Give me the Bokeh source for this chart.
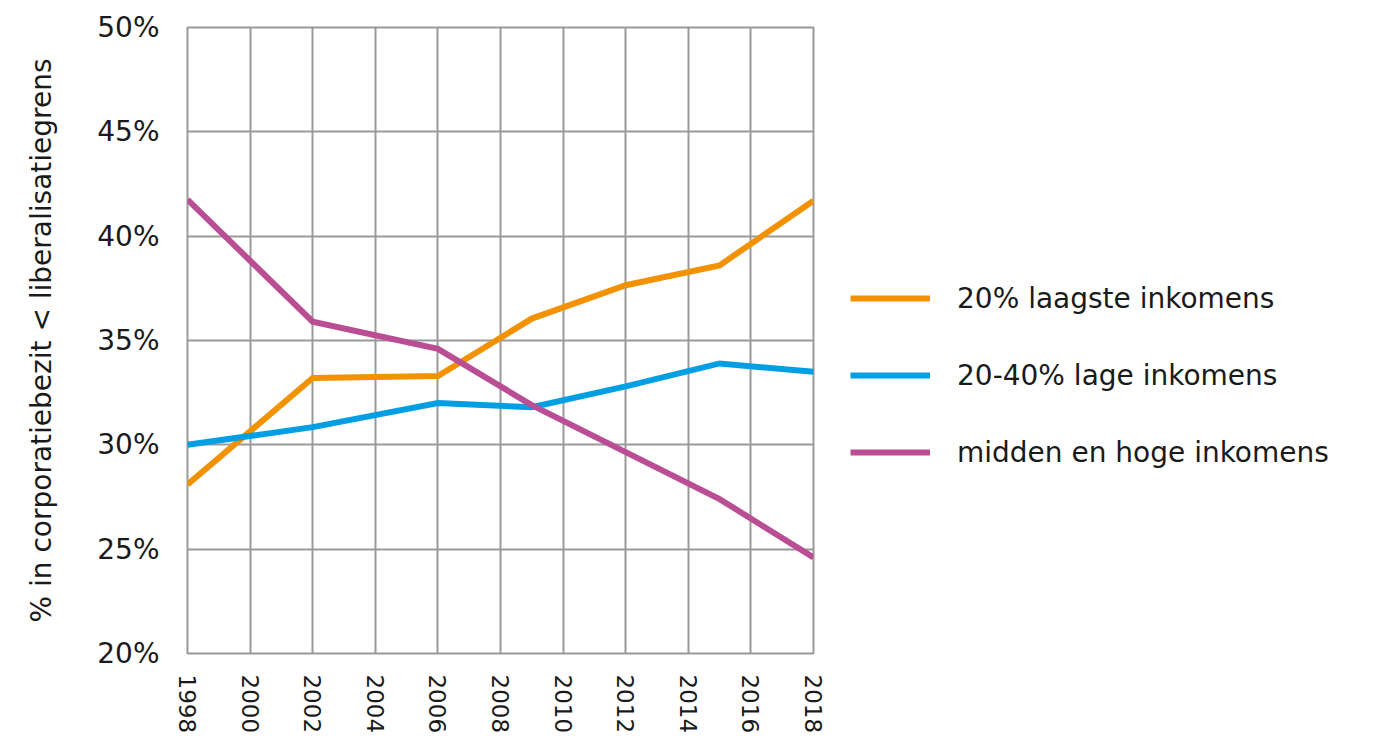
from bokeh.plotting import figure
from bokeh.layouts import row
from bokeh.models import Legend, LegendItem, FixedTicker, NumeralTickFormatter, Range1d
from bokeh.embed import file_html
from bokeh.resources import INLINE

years = [1998, 2002, 2006, 2009, 2012, 2015, 2018]
laagste = [28.1, 33.2, 33.3, 36.05, 37.65, 38.6, 41.7]
lage = [30.0, 30.85, 32.0, 31.8, 32.8, 33.9, 33.5]
midden_hoog = [41.75, 35.9, 34.6, 31.9, 29.65, 27.4, 24.6]

series_names = ["20% laagste inkomens", "20-40% lage inkomens", "midden en hoge inkomens"]
series_colors = ["#F39200", "#009FE3", "#B94E94"]
x_ticks = list(range(1998, 2019, 2))
y_ticks = [20, 25, 30, 35, 40, 45, 50]

FONT = "DejaVu Sans"
TXT = "#1a1a1a"
GRID = "#999999"
H = 736

p = figure(width=830, height=H, output_backend="svg", toolbar_location=None,
           x_range=Range1d(1998, 2018), y_range=Range1d(20, 50),
           min_border_left=187, min_border_top=27, min_border_bottom=79, min_border_right=17)
p.outline_line_color = GRID
p.outline_line_width = 2
p.background_fill_color = "white"
p.border_fill_color = "white"

for ys, c in zip([laagste, lage, midden_hoog], series_colors):
    p.line(years, ys, line_color=c, line_width=6, line_join="miter")

p.xaxis.ticker = FixedTicker(ticks=x_ticks)
p.yaxis.ticker = FixedTicker(ticks=y_ticks)
p.yaxis.formatter = NumeralTickFormatter(format="0")
p.yaxis.major_label_overrides = {t: f"{t}%" for t in y_ticks}

for ax in (p.xaxis[0], p.yaxis[0]):
    ax.axis_line_color = None
    ax.major_tick_line_color = None
    ax.minor_tick_line_color = None
    ax.major_tick_out = 0
    ax.major_tick_in = 0
    ax.major_label_text_font = FONT
    ax.major_label_text_color = TXT

p.xaxis.major_label_orientation = "vertical"
p.xaxis.major_label_text_font_size = "23px"
p.xaxis.major_label_standoff = 21
p.yaxis.major_label_text_font_size = "28px"
p.yaxis.major_label_standoff = 28
p.yaxis.axis_label = "% in corporatiebezit < liberalisatiegrens"
p.yaxis.axis_label_text_font = FONT
p.yaxis.axis_label_text_font_size = "28px"
p.yaxis.axis_label_text_font_style = "normal"
p.yaxis.axis_label_text_color = TXT
p.yaxis.axis_label_standoff = 36

p.xgrid.ticker = FixedTicker(ticks=x_ticks)
p.ygrid.ticker = FixedTicker(ticks=y_ticks)
for g in (p.xgrid[0], p.ygrid[0]):
    g.grid_line_color = GRID
    g.grid_line_width = 2

# legend panel (legend swatches reuse the series styles; their lines lie outside the visible range)
lf = figure(width=538, height=H, output_backend="svg", toolbar_location=None,
            x_range=Range1d(0, 1), y_range=Range1d(0, 1), min_border=0)
lf.axis.visible = False
lf.grid.visible = False
lf.outline_line_color = None
lf.background_fill_color = "white"
lf.border_fill_color = "white"
items = []
for n, c in zip(series_names, series_colors):
    r = lf.line([5, 6], [5, 6], line_color=c, line_width=6)
    items.append(LegendItem(label=n, renderers=[r]))

legend = Legend(items=items, location=(20, 181), orientation="vertical")
legend.glyph_width = 80
legend.glyph_height = 40
legend.label_height = 40
legend.spacing = 37
legend.label_standoff = 27
legend.padding = 0
legend.margin = 0
legend.border_line_color = None
legend.background_fill_alpha = 0
legend.label_text_font = FONT
legend.label_text_font_size = "28px"
legend.label_text_color = TXT
lf.add_layout(legend, "center")

layout = row(p, lf)
open("out.html", "w").write(file_html(layout, INLINE))
